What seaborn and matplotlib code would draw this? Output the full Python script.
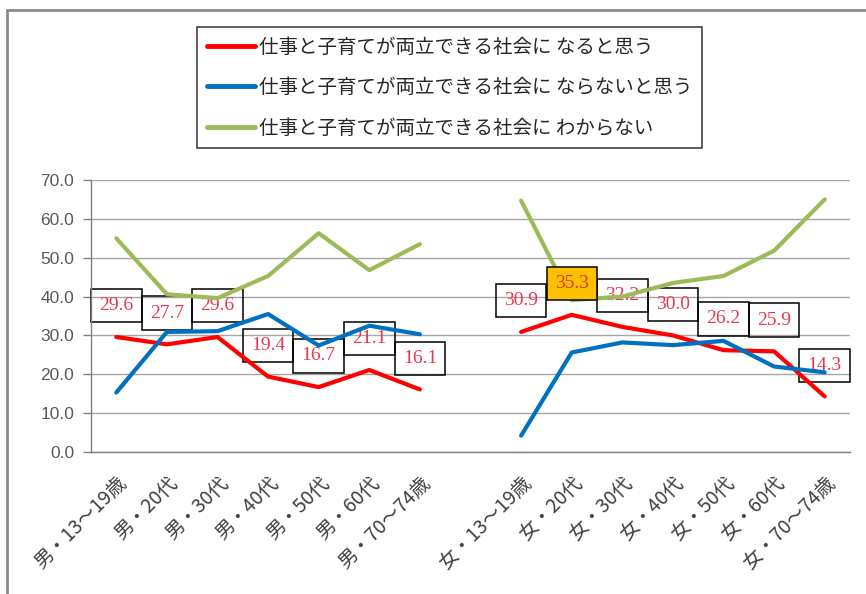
import matplotlib
matplotlib.use("Agg")
import matplotlib.pyplot as plt
from matplotlib.lines import Line2D
import seaborn as sns
import pandas as pd
import numpy as np

categories = ["男・13～19歳", "男・20代", "男・30代", "男・40代", "男・50代", "男・60代", "男・70～74歳",
              "",
              "女・13～19歳", "女・20代", "女・30代", "女・40代", "女・50代", "女・60代", "女・70～74歳"]
series_names = ["仕事と子育てが両立できる社会に なると思う",
                "仕事と子育てが両立できる社会に ならないと思う",
                "仕事と子育てが両立できる社会に わからない"]
yes_male = [29.6, 27.7, 29.6, 19.4, 16.7, 21.1, 16.1]
yes_female = [30.9, 35.3, 32.2, 30.0, 26.2, 25.9, 14.3]
no_male = [15.3, 30.9, 31.1, 35.5, 27.4, 32.5, 30.3]
no_female = [4.2, 25.6, 28.2, 27.5, 28.6, 22.0, 20.5]
dk_male = [55.0, 40.6, 39.6, 45.3, 56.3, 46.8, 53.5]
dk_female = [64.7, 39.1, 40.0, 43.5, 45.3, 51.8, 65.0]
yticks = [0, 10, 20, 30, 40, 50, 60, 70]

colors = ["#FF0000", "#0070C0", "#9BBB59"]

rows = []
male_idx = list(range(0, 7))
female_idx = list(range(8, 15))
for name, m, f in zip(series_names, [yes_male, no_male, dk_male], [yes_female, no_female, dk_female]):
    for i, v in zip(male_idx, m):
        rows.append({"pos": i, "value": v, "series": name, "group": "男"})
    for i, v in zip(female_idx, f):
        rows.append({"pos": i, "value": v, "series": name, "group": "女"})
df = pd.DataFrame(rows)

sns.set_theme(style="white")
plt.rcParams['font.family'] = ['Noto Sans CJK JP', 'DejaVu Sans']

fig = plt.figure(figsize=(8.66, 5.94), dpi=100)
ax = fig.add_axes([91/866, 1-452/594, (850-91)/866, (452-180)/594])

sns.lineplot(data=df, x="pos", y="value", hue="series", units="group", estimator=None,
             sort=False, palette=dict(zip(series_names, colors)), linewidth=3.0,
             legend=False, ax=ax, zorder=3)

ax.set_xlim(-0.5, 14.5)
ax.set_ylim(0, 70)
ax.set_yticks(yticks)
ax.set_yticklabels([f"{t:.1f}" for t in yticks], fontsize=12.5, color="#595959",
                   family=['Liberation Sans', 'DejaVu Sans'])
ax.set_xticks(range(len(categories)))
ax.set_xticklabels(categories, rotation=45, ha="right", va="top", rotation_mode="anchor",
                   fontsize=14, color="#404040")
ax.set_xticks(np.arange(-0.5, 15, 1), minor=True)
ax.tick_params(axis="x", which="major", length=0, pad=15)
ax.tick_params(axis="x", which="minor", length=6, color="#808080", width=1, direction="out")
ax.tick_params(axis="y", which="major", length=6, color="#808080", width=1, direction="out", left=True, pad=6)
ax.yaxis.grid(True, color="#A6A6A6", linewidth=1)
ax.xaxis.grid(False)
ax.set_axisbelow(True)
for s in ["top", "right"]:
    ax.spines[s].set_visible(False)
for s in ["left", "bottom"]:
    ax.spines[s].set_color("#808080")
    ax.spines[s].set_linewidth(1)
ax.set_xlabel("")
ax.set_ylabel("")

# data labels for red series
for i, v in zip(male_idx + female_idx, yes_male + yes_female):
    highlight = (v == max(yes_male + yes_female))
    ax.annotate(f"{v:.1f}", (i, v), xytext=(0, 22.5), textcoords="offset points",
                ha="center", va="center", fontsize=14,
                family=['Liberation Serif', 'DejaVu Serif'],
                color="#D9381E" if highlight else "#E8384F",
                bbox=dict(boxstyle="square,pad=0.42",
                          fc="#FFC000" if highlight else "none",
                          ec="black", lw=1.1),
                zorder=5 if highlight else 2)

handles = [Line2D([0], [0], color=c, lw=3.5) for c in colors]
leg = fig.legend(handles, series_names, loc="upper left", bbox_to_anchor=(197/866, 1-27/594),
                 bbox_transform=fig.transFigure, fontsize=14, frameon=True, fancybox=False,
                 edgecolor="black", handlelength=2.5, handletextpad=0.2, labelspacing=1.0,
                 borderpad=0.5, borderaxespad=0)
leg.get_frame().set_linewidth(1.1)
for t in leg.get_texts():
    t.set_color("#262626")

# outer chart border (top and left visible)
fig.add_artist(Line2D([7/866, 7/866], [0, 1-10/594], transform=fig.transFigure, color="#8C8C8C", lw=2))
fig.add_artist(Line2D([7/866, 1], [1-10/594, 1-10/594], transform=fig.transFigure, color="#8C8C8C", lw=2))

fig.savefig("out.png", dpi=100)
